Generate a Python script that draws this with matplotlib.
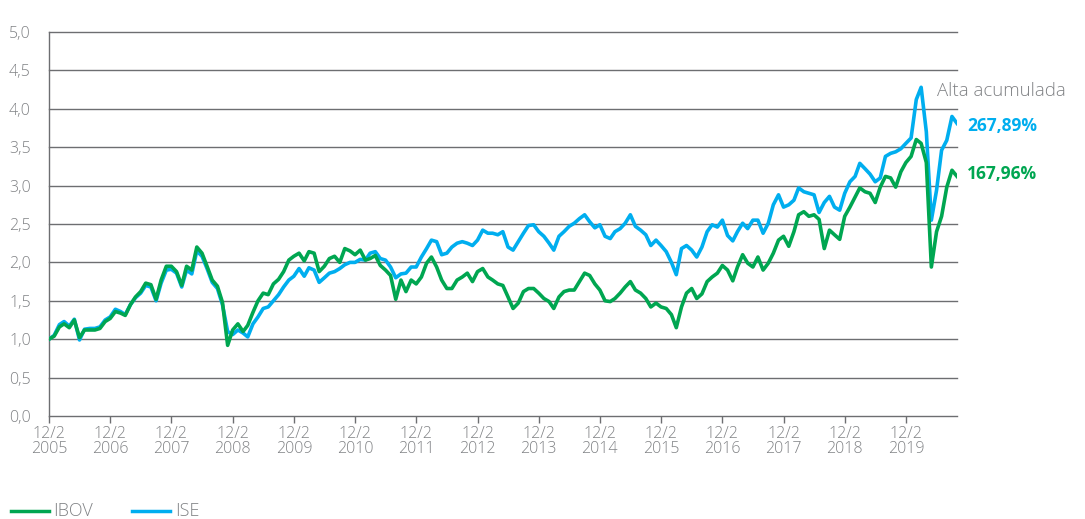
import matplotlib
matplotlib.use("Agg")
import matplotlib.pyplot as plt
from matplotlib.lines import Line2D
import pandas as pd

# ---------------- data (monthly readings, start 12/2/2005) ----------------
start_date = "2005-12-02"

ibov = [1.00, 1.04, 1.16, 1.20, 1.15, 1.25, 1.02, 1.12, 1.12, 1.12, 1.14, 1.23, 1.27, 1.36, 1.34,
        1.31, 1.45, 1.55, 1.62, 1.73, 1.71, 1.52, 1.77, 1.95, 1.95, 1.88, 1.70, 1.95, 1.90, 2.20,
        2.12, 1.95, 1.77, 1.69, 1.48, 0.92, 1.12, 1.20, 1.10, 1.18, 1.35, 1.50, 1.60, 1.58, 1.72,
        1.78, 1.88, 2.03, 2.08, 2.12, 2.02, 2.14, 2.12, 1.88, 1.95, 2.05, 2.08, 2.00, 2.18, 2.15,
        2.10, 2.16,
        2.03, 2.05, 2.09, 1.96, 1.90, 1.83, 1.52, 1.77, 1.62, 1.77, 1.72, 1.81, 1.99, 2.07, 1.94,
        1.77, 1.66, 1.66, 1.77, 1.81, 1.86, 1.75, 1.88, 1.92, 1.81, 1.77, 1.72, 1.70, 1.55, 1.40,
        1.47, 1.62, 1.66, 1.66, 1.60, 1.53, 1.49, 1.40, 1.55, 1.62, 1.64, 1.64, 1.75, 1.86, 1.83,
        1.72, 1.64, 1.50, 1.49, 1.53, 1.60, 1.68, 1.75, 1.64, 1.60, 1.53, 1.42, 1.47, 1.42, 1.40,
        1.32, 1.15, 1.42, 1.60, 1.66, 1.53, 1.59, 1.75, 1.81, 1.86, 1.96, 1.90, 1.76, 1.94, 2.10,
        1.99, 1.94, 2.07, 1.90, 1.99, 2.12, 2.29, 2.34, 2.21, 2.40, 2.62, 2.66, 2.60, 2.62, 2.56,
        2.18,
        2.42, 2.36, 2.30, 2.60, 2.72, 2.85, 2.97, 2.92, 2.90, 2.78, 2.98, 3.12, 3.10, 2.98, 3.18,
        3.30, 3.38, 3.60, 3.55, 3.30, 1.94, 2.40, 2.60, 2.98, 3.20, 3.12]

ise = [1.00, 1.05, 1.19, 1.23, 1.17, 1.26, 0.99, 1.13, 1.14, 1.14, 1.16, 1.25, 1.29, 1.39, 1.36,
       1.32, 1.45, 1.54, 1.60, 1.70, 1.68, 1.50, 1.73, 1.90, 1.91, 1.86, 1.68, 1.90, 1.85, 2.15,
       2.08, 1.92, 1.74, 1.66, 1.45, 1.10, 1.06, 1.12, 1.08, 1.03, 1.20, 1.29, 1.40, 1.42, 1.50,
       1.58, 1.68, 1.77, 1.82, 1.92, 1.82, 1.93, 1.90, 1.74, 1.80, 1.86, 1.88, 1.92, 1.97, 2.00,
       2.00, 2.04,
       2.03, 2.12, 2.14, 2.05, 2.03, 1.94, 1.80, 1.85, 1.86, 1.94, 1.94, 2.07, 2.18, 2.29, 2.27,
       2.10, 2.12, 2.20, 2.25, 2.27, 2.25, 2.22, 2.29, 2.42, 2.38, 2.38, 2.36, 2.40, 2.20, 2.16,
       2.27, 2.38, 2.48, 2.49, 2.40, 2.34, 2.25, 2.16, 2.34, 2.40, 2.47, 2.51, 2.57, 2.62, 2.53,
       2.45, 2.49, 2.34, 2.31, 2.40, 2.44, 2.51, 2.62, 2.47, 2.42, 2.36, 2.22, 2.29, 2.22, 2.14,
       2.00, 1.84, 2.18, 2.22, 2.16, 2.07, 2.20, 2.40, 2.49, 2.46, 2.55, 2.35, 2.28, 2.40, 2.51,
       2.44, 2.55, 2.55, 2.38, 2.51, 2.75, 2.88, 2.72, 2.75, 2.81, 2.97, 2.92, 2.90, 2.88, 2.65,
       2.78,
       2.86, 2.72, 2.68, 2.90, 3.05, 3.12, 3.29, 3.22, 3.15, 3.05, 3.10, 3.38, 3.42, 3.44, 3.48,
       3.55, 3.62, 4.12, 4.28, 3.70, 2.55, 2.94, 3.46, 3.59, 3.90, 3.81]

series_names = ["IBOV", "ISE"]
tick_years = list(range(2005, 2020))
tick_labels = [f"12/2\n{y}" for y in tick_years]
y_ticks = [0.0, 0.5, 1.0, 1.5, 2.0, 2.5, 3.0, 3.5, 4.0, 4.5, 5.0]
y_labels = ["0,0", "0,5", "1,0", "1,5", "2,0", "2,5", "3,0", "3,5", "4,0", "4,5", "5,0"]
annot_title = "Alta acumulada"
ise_label = "267,89%"
ibov_label = "167,96%"

# ---------------- style ----------------
GREEN = "#00A651"
BLUE = "#00AEEF"
GRID = "#6D6E71"
TEXT = "#808285"

plt.rcParams["font.family"] = ["Open Sans", "DejaVu Sans"]

dates = pd.date_range(start_date, periods=len(ibov), freq=pd.DateOffset(months=1))
tick_dates = [pd.Timestamp(f"{y}-12-02") for y in tick_years]

fig = plt.figure(figsize=(10.85, 5.19), dpi=100)
ax = fig.add_axes([49 / 1085, 1 - 416 / 519, (957 - 49) / 1085, (416 - 32) / 519])

ax.plot(dates, ise, color=BLUE, lw=2.6, solid_joinstyle="round", zorder=3)
ax.plot(dates, ibov, color=GREEN, lw=2.6, solid_joinstyle="round", zorder=4)

ax.set_xlim(dates[0], dates[-1])
ax.set_ylim(0, 5)

ax.set_yticks(y_ticks)
ax.set_yticklabels(y_labels, color=TEXT, fontsize=11.5, fontweight="light")
ax.tick_params(axis="y", length=0, pad=13)

ax.set_xticks(tick_dates)
ax.set_xticklabels(tick_labels, color=TEXT, fontsize=11.5, fontweight="light", linespacing=0.95)
ax.tick_params(axis="x", length=5, width=1, color=GRID, pad=2)

ax.yaxis.grid(True, color=GRID, lw=1.0)
ax.set_axisbelow(True)
for gl in ax.get_ygridlines():
    gl.set_clip_on(False)
for s in ["top", "right", "bottom"]:
    ax.spines[s].set_visible(False)
ax.spines["left"].set_color(GRID)
ax.spines["left"].set_linewidth(1.0)

# annotations at right
fig.text(937 / 1085, 1 - 91 / 519, annot_title, color=TEXT, fontsize=13.4,
         fontweight="light", ha="left", va="center")
fig.text(967 / 1085, 1 - 126 / 519, ise_label, color=BLUE, fontsize=12.5,
         fontweight="bold", ha="left", va="center")
fig.text(967 / 1085, 1 - 174 / 519, ibov_label, color=GREEN, fontsize=12.5,
         fontweight="bold", ha="left", va="center")

# legend at the bottom
ly = 1 - 511 / 519
fig.add_artist(Line2D([11 / 1085, 49 / 1085], [ly, ly], color=GREEN, lw=2.5))
fig.text(53 / 1085, ly, series_names[0], color=TEXT, fontsize=13.0, fontweight="light",
         ha="left", va="center")
fig.add_artist(Line2D([132 / 1085, 170 / 1085], [ly, ly], color=BLUE, lw=2.5))
fig.text(175 / 1085, ly, series_names[1], color=TEXT, fontsize=13.0, fontweight="light",
         ha="left", va="center")

fig.savefig("out.png", dpi=100)
